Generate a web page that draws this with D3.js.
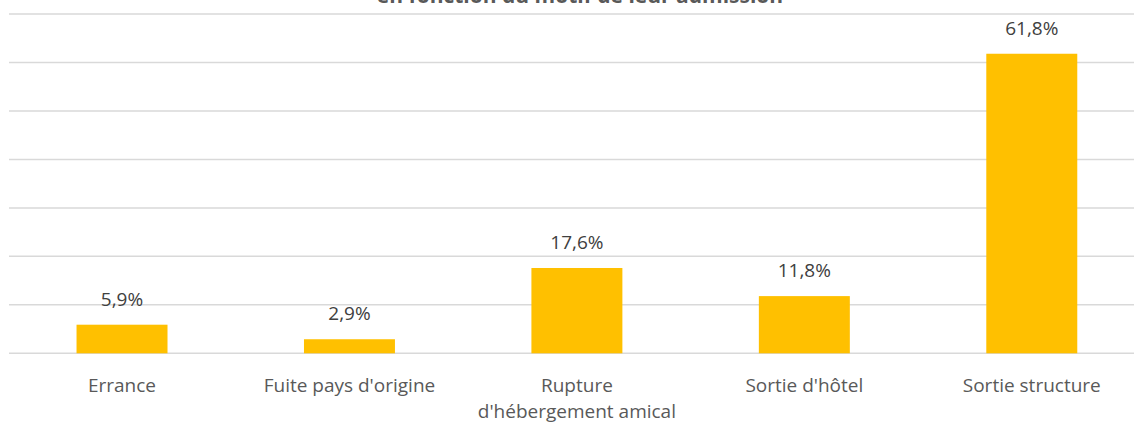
<!DOCTYPE html>
<html><head><meta charset="utf-8">
<script src="https://cdn.jsdelivr.net/npm/d3@7"></script>
<style>body{margin:0;background:#fff;}svg{display:block;}</style>
</head><body>
<script>
const categories = ["Errance", "Fuite pays d'origine", "Rupture\nd'hébergement amical", "Sortie d'hôtel", "Sortie structure"];
const values = [5.9, 2.9, 17.6, 11.8, 61.8];
const valueLabels = ["5,9%", "2,9%", "17,6%", "11,8%", "61,8%"];
const yTicks = [0, 10, 20, 30, 40, 50, 60, 70];
const title = "en fonction du motif de leur admission";

const W = 1134, H = 424;
const svg = d3.select("body").append("svg").attr("width", W).attr("height", H);
const font = "'Open Sans', 'Liberation Sans', sans-serif";

const x = d3.scaleBand().domain(categories).range([8.3, 1145.5]).paddingInner(0.6).paddingOuter(0.3);
const y = d3.scaleLinear().domain([0, 70]).range([353.3, 14]);

svg.append("g").selectAll("line").data(yTicks).join("line")
  .attr("x1", 9).attr("x2", W)
  .attr("y1", d => y(d)).attr("y2", d => y(d))
  .attr("stroke", "#D9D9D9").attr("stroke-width", 1.5);

svg.append("g").selectAll("rect").data(values).join("rect")
  .attr("x", (d, i) => x(categories[i]))
  .attr("width", x.bandwidth())
  .attr("y", d => y(d))
  .attr("height", d => y(0) - y(d))
  .attr("fill", "#FFC000");

svg.append("g").selectAll("text").data(values).join("text")
  .attr("x", (d, i) => x(categories[i]) + x.bandwidth() / 2)
  .attr("y", d => y(d) - 19)
  .attr("text-anchor", "middle")
  .attr("font-family", font).attr("font-size", 19).attr("fill", "#404040")
  .text((d, i) => valueLabels[i]);

const labG = svg.append("g");
categories.forEach(d => {
  const parts = d.split("\n");
  parts.forEach((p, i) => {
    labG.append("text")
      .attr("x", x(d) + x.bandwidth() / 2)
      .attr("y", 391.5 + i * 26)
      .attr("text-anchor", "middle")
      .attr("font-family", font).attr("font-size", 19).attr("fill", "#595959")
      .text(p);
  });
});

svg.append("text").attr("x", 580).attr("y", 3)
  .attr("text-anchor", "middle")
  .attr("font-family", font).attr("font-size", 21).attr("font-weight", "bold").attr("fill", "#595959")
  .text(title);
</script>
</body></html>
